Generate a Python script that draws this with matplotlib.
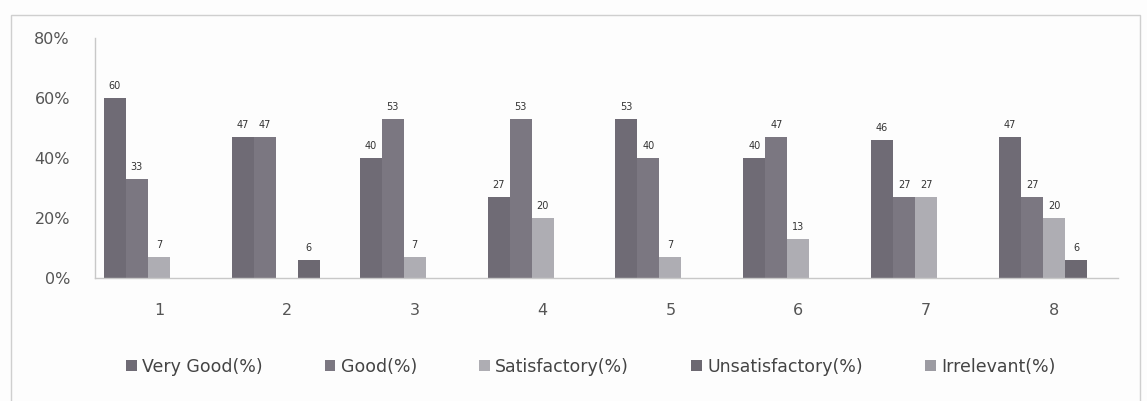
import numpy as np
import matplotlib
matplotlib.use('Agg')
import matplotlib.pyplot as plt
from matplotlib.patches import Rectangle
from matplotlib.ticker import FuncFormatter

categories = ['1', '2', '3', '4', '5', '6', '7', '8']
very_good = [60, 47, 40, 27, 53, 40, 46, 47]
good = [33, 47, 53, 53, 40, 47, 27, 27]
satisfactory = [7, 0, 7, 20, 7, 13, 27, 20]
unsatisfactory = [0, 6, 0, 0, 0, 0, 0, 6]
irrelevant = [0, 0, 0, 0, 0, 0, 0, 0]

SERIES = [
    ('Very Good(%)', very_good, '#6f6b75'),
    ('Good(%)', good, '#7b7781'),
    ('Satisfactory(%)', satisfactory, '#aeadb3'),
    ('Unsatisfactory(%)', unsatisfactory, '#6c6871'),
    ('Irrelevant(%)', irrelevant, '#9c9ba2'),
]

fig = plt.figure(figsize=(11.47, 4.01), dpi=100)
fig.patch.set_facecolor('#fdfdfd')
ax = fig.add_axes([0.0828, 0.3067, 0.8919, 0.5983])
ax.set_facecolor('none')

xs = np.arange(len(categories))
bar_width = 0.172

for i, (name, vals, color) in enumerate(SERIES):
    offs = xs + (i - 2) * bar_width
    ax.bar(offs, vals, bar_width, color=color, label=name)
    for x, v in zip(offs, vals):
        if v > 0:
            ax.text(x, v + 2.5, str(v), ha='center', va='bottom',
                    fontsize=7, color='#333333')

ax.set_xlim(-0.5, len(categories) - 0.5)
ax.set_ylim(0, 80)
ax.set_yticks([0, 20, 40, 60, 80])
ax.yaxis.set_major_formatter(FuncFormatter(lambda v, p: '%d%%' % v))
ax.set_xticks(xs)
ax.set_xticklabels(categories)
ax.tick_params(length=0, labelsize=11.5, colors='#555555')
ax.tick_params(axis='y', pad=18)
ax.tick_params(axis='x', pad=18)

for side in ['top', 'right']:
    ax.spines[side].set_visible(False)
for side in ['left', 'bottom']:
    ax.spines[side].set_color('#c8c8c8')
    ax.spines[side].set_linewidth(1.0)

leg = fig.legend(loc='center', bbox_to_anchor=(0.515, 0.085), ncol=5,
                 frameon=False, fontsize=12.5, handlelength=0.6,
                 handleheight=0.6, handletextpad=0.3, columnspacing=3.6)
for t in leg.get_texts():
    t.set_color('#444444')

fig.patches.append(Rectangle((0.0096, -0.02), 0.9843, 0.9826, transform=fig.transFigure,
                             fill=False, edgecolor='#cfcfcf', linewidth=1.0))

fig.savefig('out.png', dpi=100, facecolor=fig.get_facecolor())
